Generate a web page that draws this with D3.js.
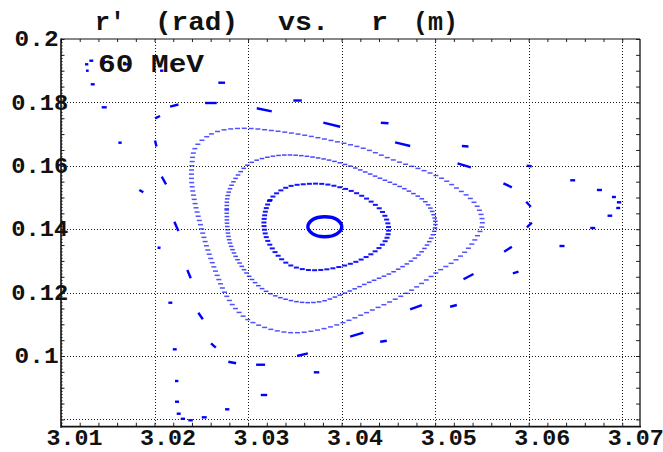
<!DOCTYPE html>
<html>
<head>
<meta charset="utf-8">
<script src="https://cdn.jsdelivr.net/npm/d3@7"></script>
<style>
  html, body { margin: 0; padding: 0; background: #fff; }
  svg { display: block; }
  text { font-family: "Liberation Mono", "DejaVu Sans Mono", monospace; font-weight: bold; fill: #111; }
</style>
</head>
<body>
<svg id="chart" width="663" height="452"></svg>
<script>
// ---- data: r (m) and r' (rad) of tracked orbits, 60 MeV ----
const energyLabel = "60 MeV";

// small central orbit near the fixed point
const coreR  = [3.04002, 3.03949, 3.03820, 3.03692, 3.03639, 3.03692, 3.03820, 3.03949];
const coreRp = [0.14079, 0.14306, 0.14394, 0.14306, 0.14079, 0.13852, 0.13763, 0.13852];

// inner closed orbit
const innerR  = [3.03171, 3.03235, 3.03414, 3.03628, 3.03805, 3.03984, 3.04163, 3.04340, 3.04447, 3.04501,
                 3.04483, 3.04376, 3.04198, 3.03984, 3.03770, 3.03591, 3.03414, 3.03271, 3.03193];
const innerRp = [0.14290, 0.14921, 0.15322, 0.15426, 0.15426, 0.15322, 0.15132, 0.14817, 0.14502, 0.14079,
                 0.13713, 0.13344, 0.13028, 0.12817, 0.12713, 0.12735, 0.12924, 0.13344, 0.13763];

// middle closed orbit
const middleR  = [3.02789, 3.02772, 3.02808, 3.02986, 3.03200, 3.03521, 3.03770, 3.03984, 3.04270, 3.04590, 3.04840,
                  3.04982, 3.05000, 3.04911, 3.04697, 3.04412, 3.04056, 3.03770, 3.03449, 3.03235, 3.03021, 3.02879];
const middleRp = [0.15132, 0.14606, 0.13555, 0.12609, 0.12028, 0.11713, 0.11713, 0.11924, 0.12293, 0.12713, 0.13240,
                  0.13871, 0.14290, 0.14817, 0.15237, 0.15606, 0.16025, 0.16237, 0.16341, 0.16287, 0.16079, 0.15656];

// outer closed orbit
const outerR  = [3.02701, 3.02558, 3.02433, 3.02398, 3.02398, 3.02433, 3.02487, 3.02558, 3.02647, 3.02754, 3.02879,
                 3.03021, 3.03271, 3.03521, 3.03877, 3.04305, 3.04733, 3.05053, 3.05196, 3.05339, 3.05446, 3.05500,
                 3.05500, 3.05463, 3.05374, 3.05232, 3.05089, 3.04911, 3.04554, 3.04233, 3.03949, 3.03591, 3.03271, 3.02950];
const outerRp = [0.17107, 0.16918, 0.16552, 0.15972, 0.15448, 0.14817, 0.14186, 0.13448, 0.12713, 0.11978, 0.11451,
                 0.11104, 0.10820, 0.10735, 0.10915, 0.11420, 0.12050, 0.12713, 0.12975, 0.13344, 0.13763, 0.14079,
                 0.14344, 0.14659, 0.14975, 0.15290, 0.15574, 0.15814, 0.16183, 0.16552, 0.16760, 0.16972, 0.17107, 0.17183];

// island-chain fragments beyond the stable region: [r, r'] at start and end of each fragment
const islandStart = [
  [3.01303, 0.19315], [3.01257, 0.19202], [3.01267, 0.19000], [3.01435, 0.19315], [3.01666, 0.19202],
  [3.02059, 0.19000], [3.01318, 0.18571], [3.01435, 0.17845], [3.01613, 0.16729], [3.01837, 0.15237],
  [3.02005, 0.17498], [3.02005, 0.16798], [3.02077, 0.15656], [3.02032, 0.13423], [3.02212, 0.14237],
  [3.02351, 0.12713], [3.02148, 0.11681], [3.02468, 0.11366], [3.02195, 0.10211], [3.02604, 0.10401],
  [3.02789, 0.09820], [3.03086, 0.09725], [3.02219, 0.09211], [3.02219, 0.08558], [3.02754, 0.08319],
  [3.02237, 0.08180], [3.02505, 0.08066], [3.02280, 0.08019], [3.02361, 0.07972], [3.02166, 0.17864],
  [3.02540, 0.17981], [3.02682, 0.18621], [3.03093, 0.17814], [3.03484, 0.18060], [3.03805, 0.17360],
  [3.04419, 0.17360], [3.04572, 0.16741], [3.05286, 0.16625], [3.05239, 0.16079], [3.05979, 0.16000],
  [3.05730, 0.15448], [3.06444, 0.15543], [3.06729, 0.15237], [3.06890, 0.15016], [3.06943, 0.14849],
  [3.06936, 0.14669], [3.05973, 0.14867], [3.05981, 0.14060], [3.06843, 0.14426], [3.06658, 0.14038],
  [3.06329, 0.13470], [3.05738, 0.13290], [3.05831, 0.12609], [3.05303, 0.12420], [3.04733, 0.11473],
  [3.05160, 0.11555], [3.04091, 0.10609], [3.04412, 0.10451], [3.03524, 0.10000], [3.03703, 0.09486],
  [3.03136, 0.08770]
];
const islandEnd = [
  [3.01345, 0.19315], [3.01292, 0.19202], [3.01296, 0.19000], [3.01471, 0.19315], [3.01720, 0.19202],
  [3.02094, 0.19000], [3.01360, 0.18571], [3.01489, 0.17845], [3.01649, 0.16729], [3.01880, 0.15164],
  [3.02059, 0.17571], [3.02021, 0.16609], [3.02123, 0.15416], [3.02064, 0.13407], [3.02255, 0.13943],
  [3.02387, 0.12451], [3.02190, 0.11681], [3.02516, 0.11158], [3.02237, 0.10211], [3.02655, 0.10262],
  [3.02872, 0.09770], [3.03182, 0.09725], [3.02255, 0.09211], [3.02262, 0.08558], [3.02800, 0.08319],
  [3.02280, 0.08180], [3.02558, 0.08066], [3.02326, 0.08019], [3.02409, 0.07972], [3.02255, 0.17934],
  [3.02665, 0.17981], [3.02754, 0.18621], [3.03253, 0.17719], [3.03574, 0.18060], [3.03984, 0.17233],
  [3.04501, 0.17341], [3.04733, 0.16625], [3.05356, 0.16609], [3.05382, 0.15953], [3.06032, 0.15987],
  [3.05820, 0.15322], [3.06497, 0.15543], [3.06783, 0.15237], [3.06932, 0.15016], [3.06989, 0.14849],
  [3.06978, 0.14669], [3.06023, 0.14710], [3.06034, 0.14205], [3.06893, 0.14426], [3.06711, 0.14038],
  [3.06383, 0.13470], [3.05820, 0.13448], [3.05891, 0.12659], [3.05410, 0.12587], [3.04858, 0.11609],
  [3.05232, 0.11609], [3.04233, 0.10735], [3.04483, 0.10483], [3.03639, 0.10085], [3.03761, 0.09486],
  [3.03204, 0.08770]
];

// axis ticks and labels
const rTicks      = [3.01, 3.02, 3.03, 3.04, 3.05, 3.06, 3.07];
const rTickLabels = ["3.01", "3.02", "3.03", "3.04", "3.05", "3.06", "3.07"];
const rpTicks      = [0.1, 0.12, 0.14, 0.16, 0.18, 0.2];
const rpTickLabels = ["0.1", "0.12", "0.14", "0.16", "0.18", "0.2"];
const rGrid  = [3.02, 3.03, 3.04, 3.05, 3.06, 3.07];
const rpGrid = [0.08, 0.1, 0.12, 0.14, 0.16, 0.18];
const rDomain  = [3.01, 3.0719];
const rpDomain = [0.0777, 0.2];

// ---- layout ----
const svg = d3.select("#chart");
const plotLeft = 61, plotRight = 640, plotTop = 39, plotBottom = 426.7;
const x = d3.scaleLinear().domain(rDomain).range([plotLeft, plotRight]);
const y = d3.scaleLinear().domain(rpDomain).range([plotBottom, plotTop]);

// grid
const grid = svg.append("g").attr("stroke", "#1a1a1a").attr("stroke-width", 1).attr("stroke-dasharray", "1,2");
grid.selectAll(".gx").data(rGrid).join("line")
  .attr("x1", d => Math.round(x(d)) + 0.5).attr("x2", d => Math.round(x(d)) + 0.5)
  .attr("y1", plotTop).attr("y2", plotBottom);
grid.selectAll(".gy").data(rpGrid).join("line")
  .attr("y1", d => Math.round(y(d)) + 0.5).attr("y2", d => Math.round(y(d)) + 0.5)
  .attr("x1", plotLeft).attr("x2", plotRight);

// minor ticks
const strip = sel => sel.select(".domain").remove();
const tickStyle = sel => sel.selectAll("line").attr("stroke", "#222").attr("stroke-width", 1);
const minorR = d3.range(0, 32).map(i => 3.01 + i * 0.002).filter(v => v < rDomain[1] - 0.0003);
svg.append("g").attr("transform", `translate(0,${plotBottom})`)
  .call(d3.axisTop(x).tickValues(minorR).tickSize(4).tickFormat("")).call(strip).call(tickStyle);
svg.append("g").attr("transform", `translate(0,${plotTop})`)
  .call(d3.axisBottom(x).tickValues(minorR).tickSize(3).tickFormat("")).call(strip).call(tickStyle);
const fineRp = d3.range(0, 123).map(i => 0.078 + i * 0.001).filter(v => v <= 0.2001);
const midRp = d3.range(0, 25).map(i => 0.08 + i * 0.005).filter(v => v <= 0.2001);
svg.append("g").attr("transform", `translate(${plotLeft},0)`)
  .call(d3.axisRight(y).tickValues(fineRp).tickSize(1.6).tickFormat("")).call(strip).call(tickStyle);
svg.append("g").attr("transform", `translate(${plotLeft},0)`)
  .call(d3.axisRight(y).tickValues(midRp).tickSize(3.5).tickFormat("")).call(strip).call(tickStyle);
svg.append("g").attr("transform", `translate(${plotRight},0)`)
  .call(d3.axisLeft(y).tickValues(midRp).tickSize(4).tickFormat("")).call(strip).call(tickStyle);

// frame
const frame = svg.append("g").attr("stroke", "#111").attr("fill", "none");
frame.append("line").attr("x1", plotLeft).attr("x2", plotLeft).attr("y1", plotTop - 0.5).attr("y2", plotBottom + 1).attr("stroke-width", 1.6);
frame.append("line").attr("x1", plotLeft).attr("x2", plotRight + 1).attr("y1", plotBottom).attr("y2", plotBottom).attr("stroke-width", 1.8);
frame.append("line").attr("x1", plotLeft).attr("x2", plotRight).attr("y1", plotTop).attr("y2", plotTop).attr("stroke-width", 1.1);
frame.append("line").attr("x1", plotRight).attr("x2", plotRight).attr("y1", plotTop).attr("y2", plotBottom).attr("stroke-width", 1.3);

// x tick labels
const xl = svg.append("g").attr("transform", `translate(0,${plotBottom})`)
  .call(d3.axisBottom(x).tickValues(rTicks).tickSize(0).tickFormat((d, i) => rTickLabels[i]));
xl.select(".domain").remove();
xl.selectAll("text").attr("y", 18.4).attr("dy", null).attr("dx", 13)
  .attr("textLength", 56).attr("lengthAdjust", "spacingAndGlyphs")
  .attr("fill", "#111").style("font-size", "22.5px")
  .style("font-family", "'Liberation Mono', 'DejaVu Sans Mono', monospace").style("font-weight", "bold");

// y tick labels
svg.append("g").selectAll("text").data(rpTicks).join("text")
  .attr("x", (d, i) => rpTickLabels[i].length > 3 ? 11.2 : 14.6)
  .attr("y", d => y(d) + 7.2)
  .attr("textLength", (d, i) => rpTickLabels[i].length > 3 ? 57 : 44)
  .attr("lengthAdjust", "spacingAndGlyphs")
  .style("font-size", "22px")
  .text((d, i) => rpTickLabels[i]);

// ---- orbits ----
const plot = svg.append("g");
const pts = (rs, rps) => rs.map((r, i) => [x(r), y(rps[i])]);
const closed = d3.line().curve(d3.curveCatmullRomClosed.alpha(0.5));

// turn-by-turn points along an orbit: short horizontal marks, sparser where the orbit runs flat
function pointOrbit(rs, rps, o) {
  const path = plot.append("path").attr("d", closed(pts(rs, rps))).attr("fill", "none").attr("stroke", "none");
  const node = path.node();
  const L = node.getTotalLength();
  const marks = [];
  let l = 0;
  while (l < L) {
    const a = node.getPointAtLength(l);
    const b = node.getPointAtLength(Math.min(L, l + 1));
    const c = node.getPointAtLength(Math.max(0, l - 1));
    const dx = b.x - c.x, dy = b.y - c.y;
    const h = Math.hypot(dx, dy) || 1;
    const cs = Math.abs(dx) / h;
    marks.push(a);
    l += o.base + o.extra * cs * cs;
  }
  path.remove();
  plot.append("g").selectAll("rect").data(marks).join("rect")
    .attr("x", m => m.x - o.w / 2).attr("y", m => m.y - o.h / 2)
    .attr("width", o.w).attr("height", o.h)
    .attr("fill", "#0000ff").attr("fill-opacity", o.op);
}

pointOrbit(outerR, outerRp,   { base: 4.2, extra: 2.6, w: 5.0, h: 1.5, op: 0.68 });
pointOrbit(middleR, middleRp, { base: 3.3, extra: 2.4, w: 4.6, h: 1.5, op: 0.72 });
pointOrbit(innerR, innerRp,   { base: 3.6, extra: 2.6, w: 5.0, h: 2.0, op: 0.92 });

// central orbit
plot.append("path").attr("d", closed(pts(coreR, coreRp)))
  .attr("fill", "none").attr("stroke", "#0000ff").attr("stroke-width", 3.4);

// island fragments
plot.append("g").selectAll("line").data(islandStart).join("line")
  .attr("x1", d => x(d[0])).attr("y1", d => y(d[1]))
  .attr("x2", (d, i) => x(islandEnd[i][0])).attr("y2", (d, i) => y(islandEnd[i][1]))
  .attr("stroke", "#0000ff").attr("stroke-width", 2.4).attr("stroke-linecap", "butt");

// ---- text ----
svg.append("text").attr("x", 98).attr("y", 72.3)
  .attr("textLength", 106).attr("lengthAdjust", "spacingAndGlyphs")
  .style("font-size", "26px").text(energyLabel);

// title words, each fitted to its own span
const titleWords = [["r\u2032", 95, 30], ["(rad)", 155, 83], ["vs.", 278, 51], ["r", 371, 17], ["(m)", 413, 45]];
svg.append("g").selectAll("text").data(titleWords).join("text")
  .attr("x", d => d[1]).attr("y", 30)
  .attr("textLength", d => d[2]).attr("lengthAdjust", "spacingAndGlyphs")
  .style("font-size", "26px")
  .text(d => d[0]);
</script>
</body>
</html>
